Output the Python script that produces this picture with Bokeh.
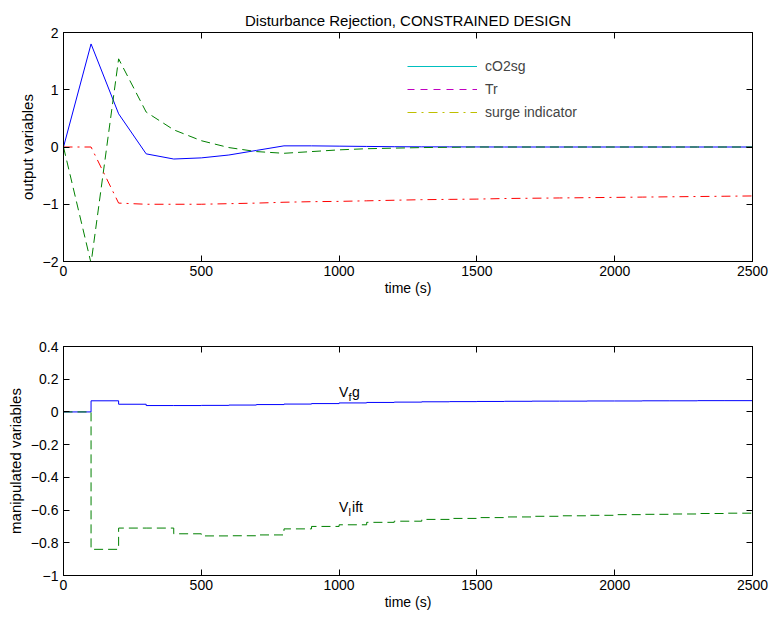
from bokeh.plotting import figure
from bokeh.layouts import column
from bokeh.models import (Range1d, LinearAxis, FixedTicker, CustomJSTickFormatter,
                          Legend, LegendItem)
from bokeh.core.properties import value
from bokeh.embed import file_html
from bokeh.resources import INLINE

# ---------------- data ----------------
time_s = [0, 100, 200, 300, 400, 500, 600, 700, 800, 900, 1000, 1100, 1200,
          1300, 1400, 1500, 1600, 1700, 1800, 1900, 2000, 2100, 2200, 2300, 2400, 2500]

# top panel: output variables
co2sg_out = [0, 1.80, 0.58, -0.12, -0.21, -0.19, -0.14, -0.06, 0.02, 0.02, 0.015, 0.01, 0.005,
             0.003, 0.002, 0.001, 0, 0, 0, 0, 0, 0, 0, 0, 0, 0]
tr_out = [0, -2.03, 1.54, 0.61, 0.30, 0.11, -0.01, -0.08, -0.11, -0.08, -0.05, -0.03, -0.02,
          -0.01, -0.005, 0, 0, 0, 0, 0, 0, 0, 0, 0, 0, 0]
surge_out = [0, 0, -0.98, -1.0, -1.0, -1.0, -0.99, -0.98, -0.965, -0.955, -0.95, -0.94, -0.93,
             -0.92, -0.915, -0.91, -0.90, -0.895, -0.89, -0.885, -0.88, -0.875, -0.87, -0.865,
             -0.86, -0.855]

# bottom panel: manipulated variables (zero-order hold)
vfg = [0, 0.068, 0.047, 0.039, 0.039, 0.040, 0.042, 0.045, 0.048, 0.051, 0.055, 0.058, 0.060,
       0.062, 0.063, 0.064, 0.065, 0.066, 0.066, 0.067, 0.067, 0.068, 0.068, 0.069, 0.069, 0.070]
vlift = [0, -0.84, -0.71, -0.71, -0.745, -0.758, -0.757, -0.752, -0.715, -0.70, -0.69, -0.675,
         -0.668, -0.657, -0.651, -0.646, -0.642, -0.638, -0.635, -0.632, -0.628, -0.626, -0.624,
         -0.621, -0.619, -0.617]

x_ticks = [0, 500, 1000, 1500, 2000, 2500]
y_ticks_top = [-2, -1, 0, 1, 2]
y_ticks_bottom = [-1, -0.8, -0.6, -0.4, -0.2, 0, 0.2, 0.4]
legend_labels = ["cO2sg", "Tr", "surge indicator"]

FONT = "Liberation Sans"
FS = "14px"
FS_LABEL = "15px"
NAN = float("nan")

fmt_code = """
const v = Math.round(tick * 10) / 10;
return String(v).replace('-', '\u2212');
"""


def make_fig(height, border_top, y_start, y_end, y_ticks, y_label, title=None):
    p = figure(width=773, height=height, x_range=Range1d(0, 2500),
               y_range=Range1d(y_start, y_end), output_backend="svg",
               toolbar_location=None, min_border_left=63, min_border_right=21,
               min_border_top=border_top, min_border_bottom=42, title=title)
    p.xgrid.visible = False
    p.ygrid.visible = False
    p.outline_line_color = "black"
    p.outline_line_width = 1
    p.background_fill_color = "white"
    p.border_fill_color = "white"

    for ax, ticks in ((p.xaxis[0], x_ticks), (p.yaxis[0], y_ticks)):
        ax.ticker = FixedTicker(ticks=ticks)
        ax.formatter = CustomJSTickFormatter(code=fmt_code)
        ax.minor_tick_line_color = None
        ax.major_tick_in = 6
        ax.major_tick_out = 0
        ax.major_tick_line_color = "black"
        ax.axis_line_color = "black"
        ax.major_label_text_font = FONT
        ax.major_label_text_font_size = FS
        ax.major_label_text_color = "black"
        ax.axis_label_text_font = FONT
        ax.axis_label_text_font_size = FS_LABEL
        ax.axis_label_text_font_style = "normal"
        ax.axis_label_text_color = "black"

    p.xaxis[0].axis_label = "time (s)"
    p.xaxis[0].axis_label_text_font_size = FS
    p.xaxis[0].major_label_standoff = 4
    p.xaxis[0].axis_label_standoff = 1
    p.yaxis[0].axis_label = y_label
    p.yaxis[0].major_label_standoff = 5
    p.yaxis[0].axis_label_standoff = 4

    # box axes (top/right) with inward ticks and no labels
    for place, ticks in (("above", x_ticks), ("right", y_ticks)):
        ax = LinearAxis(ticker=FixedTicker(ticks=ticks),
                        formatter=CustomJSTickFormatter(code="return '';"),
                        major_label_standoff=0, major_tick_in=6, major_tick_out=0,
                        minor_tick_line_color=None, axis_line_color="black",
                        major_tick_line_color="black", major_label_text_font_size="1px")
        p.add_layout(ax, place)
    return p


# ---------------- top panel ----------------
p1 = make_fig(303, 32, -2, 2, y_ticks_top, "output variables",
              title="Disturbance Rejection, CONSTRAINED DESIGN")
p1.title.align = "center"
p1.title.text_font = FONT
p1.title.text_font_size = "15px"
p1.title.text_font_style = "normal"
p1.title.text_color = "black"
p1.title.standoff = 8

p1.line(time_s, co2sg_out, line_color="#0000FF", line_width=1)
p1.line(time_s, tr_out, line_color="#008000", line_width=1, line_dash="9 5")
p1.line(time_s, surge_out, line_color="#FF0000", line_width=1, line_dash="9 5 2 5")

# legend samples (styled as in the reference legend); renderers hold no visible points
d1 = p1.line([NAN], [NAN], line_color="#00BFBF", line_width=1)
d2 = p1.line([NAN], [NAN], line_color="#C000C0", line_width=1, line_dash="7 6")
d3 = p1.line([NAN], [NAN], line_color="#BFBF00", line_width=1, line_dash="9 5 2 5")
legend = Legend(items=[LegendItem(label=legend_labels[0], renderers=[d1]),
                       LegendItem(label=legend_labels[1], renderers=[d2]),
                       LegendItem(label=legend_labels[2], renderers=[d3])],
                location=(344, 139), border_line_alpha=0, background_fill_alpha=0,
                glyph_width=70, glyph_height=20, label_height=20, spacing=3,
                padding=0, margin=0, label_standoff=8,
                label_text_font=FONT, label_text_font_size=FS)
p1.add_layout(legend)

# ---------------- bottom panel ----------------
p2 = make_fig(314, 43, -1, 0.4, y_ticks_bottom, "manipulated variables")
p2.step(time_s, vfg, mode="after", line_color="#0000FF", line_width=1)
p2.step(time_s, vlift, mode="after", line_color="#008000", line_width=1, line_dash="9 5")


def sub_label(p, x, y, main, sub, rest, main_w):
    p.text(x=[x], y=[y], text=[main], text_font=value(FONT), text_font_size=FS,
           text_baseline="middle", text_align="left", text_color="black")
    p.text(x=[x], y=[y], text=[sub], text_font=value(FONT), text_font_size="11px",
           text_baseline="middle", text_align="left", text_color="black",
           x_offset=main_w, y_offset=5)
    p.text(x=[x], y=[y], text=[rest], text_font=value(FONT), text_font_size=FS,
           text_baseline="middle", text_align="left", text_color="black",
           x_offset=main_w + 3.5)


sub_label(p2, 1000, 0.12, "V", "f", "g", 9.5)
sub_label(p2, 1000, -0.58, "V", "l", "ift", 9.5)

layout = column(p1, p2)
open("out.html", "w").write(file_html(layout, INLINE))
